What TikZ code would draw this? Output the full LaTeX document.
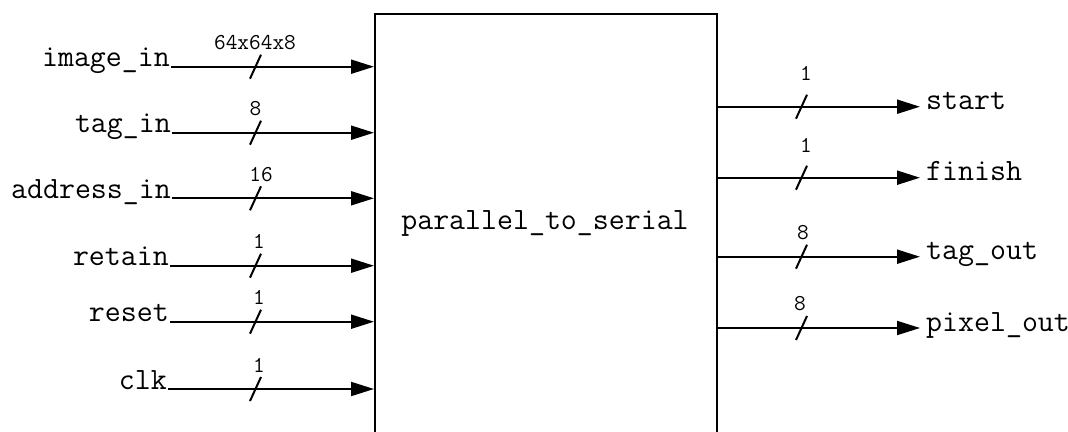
\documentclass[tikz,border=0pt]{standalone}
\usepackage{fontspec}
\usetikzlibrary{arrows.meta}
\begin{document}
\begin{tikzpicture}[x=1pt,y=-1pt,
  sig/.style={line width=2pt,-{Triangle[length=23pt,width=14pt]}},
  port/.style={font=\fontsize{31}{31}\selectfont\ttfamily\addfontfeatures{FakeBold=1.2}, inner sep=0pt},
  bw/.style={font=\fontsize{22.7}{22.7}\selectfont\ttfamily\addfontfeatures{FakeBold=1.2}, inner sep=0pt},
  slash/.style={line width=2pt}]
\useasboundingbox (0,0) rectangle (1068,431);
\clip (0,0) rectangle (1068,431);
\node[draw, line width=2pt, minimum width=342pt, minimum height=440pt, anchor=north west, inner sep=0pt] (box) at (374,13) {};
\node[port] (title) at (545,223) {parallel\_to\_serial};
% inputs
\foreach \n/\t/\y/\x/\b/\bx in {
  imagein/image\_in/66.7/171/64x64x8/255,
  tagin/tag\_in/132.7/172/8/255.5,
  addrin/address\_in/198.3/172/16/261,
  retain/retain/265.7/170/1/259,
  reset/reset/321.7/170/1/259,
  clk/clk/389/168/1/259}{
  \coordinate (s\n) at (\x,\y);
  \node[port, anchor=base east] (t\n) at (\x-1,\y) {\t};
  \draw[sig] (s\n) -- (s\n -| box.west);
  \coordinate (m\n) at (255.5,\y);
  \draw[slash] ([shift={(-5.5,12)}]m\n) -- ([shift={(5.5,-12)}]m\n);
  \node[bw] (b\n) at (\bx,\y-24) {\b};
}
% outputs
\foreach \n/\t/\y/\b/\bx/\by in {
  start/start/106.7/1/806/73,
  finish/finish/177.7/1/806/145,
  tagout/tag\_out/256.7/8/803/233,
  pixout/pixel\_out/328/8/800/304}{
  \coordinate (s\n) at (box.east |- 0,\y);
  \coordinate (e\n) at (920,\y);
  \draw[sig] (s\n) -- (e\n);
  \node[port, anchor=base west] (t\n) at (926,\y+3) {\t};
  \coordinate (m\n) at (801.5,\y);
  \draw[slash] ([shift={(-5.5,12)}]m\n) -- ([shift={(5.5,-12)}]m\n);
  \node[bw] (b\n) at (\bx,\by) {\b};
}
\end{tikzpicture}
\end{document}
